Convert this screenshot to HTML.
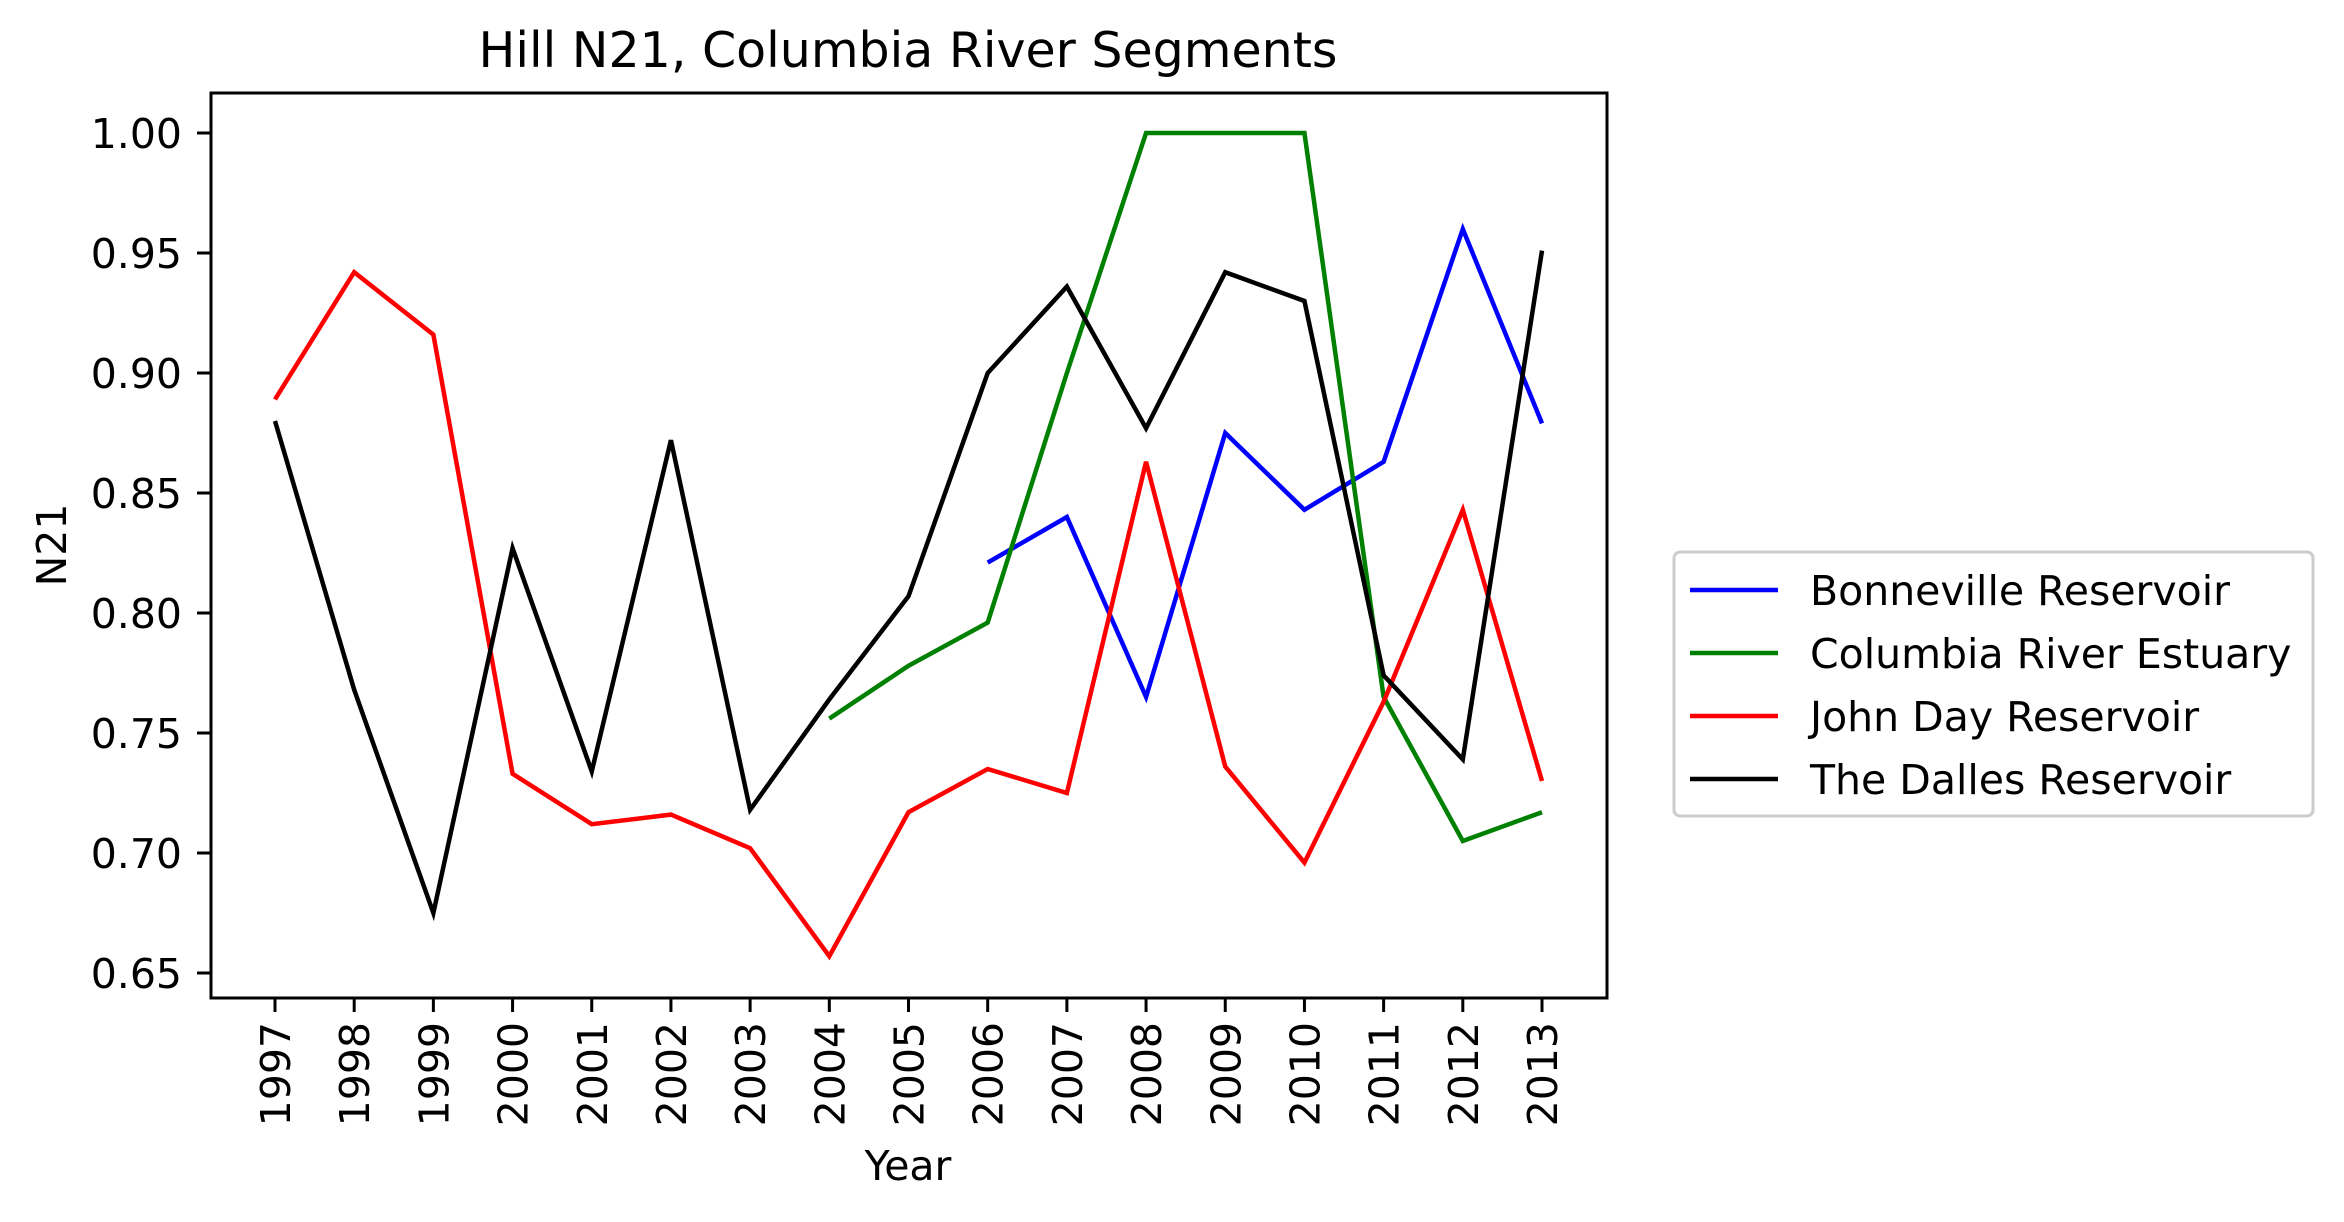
<!DOCTYPE html>
<html><head><meta charset="utf-8"><style>body{margin:0;background:#fff}svg{display:block;font-family:"DejaVu Sans","Liberation Sans",sans-serif}</style></head>
<body>
<svg id="chart" width="2344" height="1222" viewBox="0 0 2344 1222" xmlns="http://www.w3.org/2000/svg">
<rect width="2344" height="1222" fill="#fff"/>
<text x="908" y="67" font-size="49" text-anchor="middle">Hill N21, Columbia River Segments</text>
<text transform="translate(66,545) rotate(-90)" font-size="41" text-anchor="middle">N21</text>
<text x="908" y="1180" font-size="41" text-anchor="middle">Year</text>
<g id="ticks"></g>
<g id="lines"></g>
<rect x="211" y="93" width="1396" height="905" fill="none" stroke="#000" stroke-width="3"/>
<g>
<rect x="1674" y="552" width="639" height="264" rx="6" fill="#fff" stroke="#ccc" stroke-width="3"/>
<g id="legend-items"></g>
</g>
</svg>
<script>
const years = [1997,1998,1999,2000,2001,2002,2003,2004,2005,2006,2007,2008,2009,2010,2011,2012,2013];
const yTicks = [0.65,0.70,0.75,0.80,0.85,0.90,0.95,1.00];
const seriesNames = ["Bonneville Reservoir","Columbia River Estuary","John Day Reservoir","The Dalles Reservoir"];
const seriesColors = ["#0000ff","#008000","#ff0000","#000000"];
const bonneville = [null,null,null,null,null,null,null,null,null,0.821,0.840,0.765,0.875,0.843,0.863,0.960,0.879];
const estuary = [null,null,null,null,null,null,null,0.756,0.778,0.796,0.900,1.0,1.0,1.0,0.765,0.705,0.717];
const johnDay = [0.889,0.942,0.916,0.733,0.712,0.716,0.702,0.657,0.717,0.735,0.725,0.863,0.736,0.696,0.763,0.843,0.730];
const dalles = [0.880,0.768,0.675,0.827,0.734,0.872,0.718,0.764,0.807,0.900,0.936,0.877,0.942,0.930,0.774,0.739,0.951];
const allSeries = [bonneville, estuary, johnDay, dalles];

const NS="http://www.w3.org/2000/svg";
const xS = y => 275 + (y-1997)*(1542-275)/16;
const yS = v => 133 + (1.0-v)*(973-133)/0.35;

const tk=document.getElementById('ticks');
yTicks.forEach(v=>{
  const l=document.createElementNS(NS,'line');
  
  
  l.setAttribute('x1',197);l.setAttribute('x2',211);l.setAttribute('y1',yS(v));l.setAttribute('y2',yS(v));l.setAttribute('stroke','#000');l.setAttribute('stroke-width',3);
  tk.appendChild(l);
  const t=document.createElementNS(NS,'text');
  
  
  t.setAttribute('x',182);t.setAttribute('y',yS(v)+15);t.setAttribute('font-size',41);t.setAttribute('text-anchor','end');
  t.textContent=v.toFixed(2);tk.appendChild(t);
});
years.forEach(y=>{
  const l=document.createElementNS(NS,'line');
  
  
  l.setAttribute('x1',xS(y));l.setAttribute('x2',xS(y));l.setAttribute('y1',998);l.setAttribute('y2',1012);l.setAttribute('stroke','#000');l.setAttribute('stroke-width',3);
  tk.appendChild(l);
  const t=document.createElementNS(NS,'text');
  
  
  t.setAttribute('transform',`translate(${xS(y)+15},1022) rotate(-90)`);t.setAttribute('font-size',41);t.setAttribute('text-anchor','end');
  t.textContent=y;tk.appendChild(t);
});
const lg=document.getElementById('lines');
allSeries.forEach((s,i)=>{
  const pts=[];s.forEach((v,j)=>{if(v!==null)pts.push(xS(years[j])+','+yS(v));});
  const p=document.createElementNS(NS,'polyline');
  
  
  p.setAttribute('points',pts.join(' '));p.setAttribute('fill','none');p.setAttribute('stroke',seriesColors[i]);p.setAttribute('stroke-width',4.5);p.setAttribute('stroke-linejoin','miter');
  lg.appendChild(p);
});
const li=document.getElementById('legend-items');
seriesNames.forEach((n,i)=>{
  const y=590+i*63;
  const l=document.createElementNS(NS,'line');
  
  
  l.setAttribute('x1',1690);l.setAttribute('x2',1778);l.setAttribute('y1',y);l.setAttribute('y2',y);l.setAttribute('stroke',seriesColors[i]);l.setAttribute('stroke-width',4.5);
  li.appendChild(l);
  const t=document.createElementNS(NS,'text');
  
  
  t.setAttribute('x',1810);t.setAttribute('y',y+15);t.setAttribute('font-size',41);
  t.textContent=n;li.appendChild(t);
});
</script>
</body></html>
